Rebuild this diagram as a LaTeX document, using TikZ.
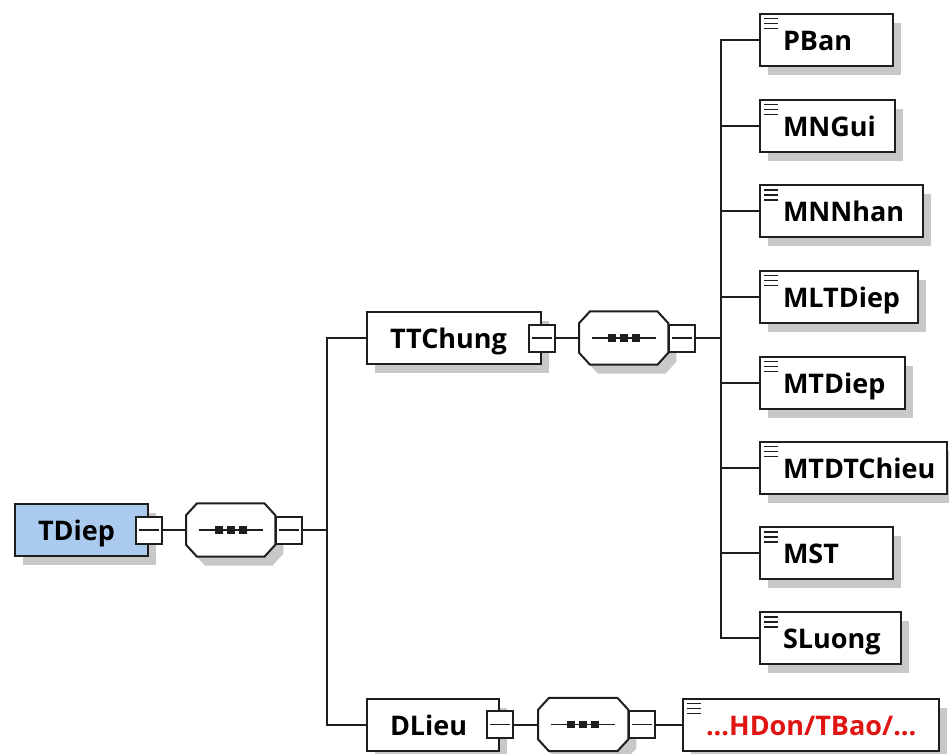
\documentclass[tikz,border=0pt]{standalone}
\usepackage{fontspec}
\setmainfont{Open Sans}
\usetikzlibrary{shadows}
\definecolor{tdblue}{RGB}{170,203,238}
\definecolor{linecol}{RGB}{30,30,30}
\definecolor{redtxt}{RGB}{225,20,20}
\definecolor{shadowcol}{RGB}{200,200,200}
\newcommand{\elabel}[2]{\makebox[#1pt][l]{\hspace*{23pt}#2}}
\newcommand{\seqfig}[1]{%
  \fill[shadowcol] ([shift={(19pt,-9pt)}]#1.north west) -- ([shift={(-3pt,-9pt)}]#1.north east) -- ([shift={(8pt,-21pt)}]#1.north east) -- ([shift={(8pt,3pt)}]#1.south east) -- ([shift={(-3pt,-9pt)}]#1.south east) -- ([shift={(19pt,-9pt)}]#1.south west) -- ([shift={(8pt,3pt)}]#1.south west) -- ([shift={(8pt,-21pt)}]#1.north west) -- cycle;
  \filldraw[fill=white, draw=linecol, line width=2pt] ([xshift=11pt]#1.north west) -- ([xshift=-11pt]#1.north east) -- ([yshift=-12pt]#1.north east) -- ([yshift=12pt]#1.south east) -- ([xshift=-11pt]#1.south east) -- ([xshift=11pt]#1.south west) -- ([yshift=12pt]#1.south west) -- ([yshift=-12pt]#1.north west) -- cycle;
  \draw[linecol, line width=1.6pt] ([xshift=-32pt]#1.center) -- ([xshift=32pt]#1.center);
  \foreach \dx in {-12,0,12}{\fill[linecol] ([xshift=\dx pt]#1.center) +(-3.8pt,-3.8pt) rectangle +(3.8pt,3.8pt);}
}
\begin{document}
\begin{tikzpicture}[x=1pt,y=-1pt,
  elem/.style={draw=linecol, line width=2pt, fill=white, rectangle, inner sep=0pt,
    minimum height=52pt, text height=23pt, text depth=2pt,
    font=\bfseries\fontsize{27}{32}\selectfont, anchor=west,
    drop shadow={shadow xshift=8pt, shadow yshift=-9pt, fill=shadowcol, opacity=1}},
  leaf/.style={elem, path picture={\foreach \dy in {5,10,15}{\draw[linecol, line width=1.7pt] ([shift={(4pt,-\dy pt)}]path picture bounding box.north west) -- ++(14pt,0pt);}}},
  minusbox/.style={draw=linecol, line width=2pt, fill=white, rectangle, inner sep=0pt,
    minimum width=26pt, minimum height=27pt,
    path picture={\draw[linecol, line width=1.6pt] ([xshift=3pt]path picture bounding box.west) -- ([xshift=-3pt]path picture bounding box.east);}},
  seqbox/.style={rectangle, inner sep=0pt, minimum width=89pt, minimum height=53pt, anchor=west},
  conn/.style={draw=linecol, line width=2pt}
]
\fill[white] (0,0) rectangle (949,753);
\useasboundingbox (0,0) rectangle (949,753);

% root
\node[elem, fill=tdblue] (tdiep) at (14,530) {\elabel{133}{TDiep}};
\node[minusbox] (tdiepm) at (tdiep.east) {};
\node[seqbox] (s1) at (186,530) {};
\seqfig{s1}
\node[minusbox, anchor=west] (s1m) at (s1.east) {};
\coordinate (j1) at (327,530);

% TTChung branch
\node[elem] (ttchung) at (366,338) {\elabel{174}{TTChung}};
\node[minusbox] (ttchungm) at (ttchung.east) {};
\node[seqbox] (s2) at (579,338) {};
\seqfig{s2}
\node[minusbox, anchor=west] (s2m) at (s2.east) {};
\coordinate (j2) at (721,338);

% children
\node[leaf] (pban) at (759,39.5) {\elabel{133}{PBan}};
\node[leaf] (mngui) at (759,125.5) {\elabel{135}{MNGui}};
\node[leaf] (mnnhan) at (759,211) {\elabel{163}{MNNhan}};
\node[leaf] (mltdiep) at (759,296.5) {\elabel{158}{MLTDiep}};
\node[leaf] (mtdiep) at (759,382.5) {\elabel{145}{MTDiep}};
\node[leaf] (mtdtchieu) at (759,467.5) {\elabel{187}{MTDTChieu}};
\node[leaf] (mst) at (759,553) {\elabel{133}{MST}};
\node[leaf] (sluong) at (759,638) {\elabel{141}{SLuong}};

% DLieu branch
\node[elem] (dlieu) at (366,724.5) {\elabel{132}{DLieu}};
\node[minusbox] (dlieum) at (dlieu.east) {};
\node[seqbox, minimum width=90pt] (s3) at (538,724.5) {};
\seqfig{s3}
\node[minusbox, anchor=west] (s3m) at (s3.east) {};
\node[leaf, text=redtxt] (hdon) at (682,724.5) {\elabel{256}{...HDon/TBao/...}};

% connectors
\draw[conn] (tdiepm.east) -- (s1.west);
\draw[conn] (s1m.east) -- (j1);
\draw[conn] (ttchung.west) -| (j1) |- (dlieu.west);
\draw[conn] (ttchungm.east) -- (s2.west);
\draw[conn] (s2m.east) -- (j2);
\foreach \c in {pban,mngui,mnnhan,mltdiep,mtdiep,mtdtchieu,mst,sluong}{\draw[conn] (j2) |- (\c.west);}
\draw[conn] (dlieum.east) -- (s3.west);
\draw[conn] (s3m.east) -- (hdon.west);
\end{tikzpicture}
\end{document}
